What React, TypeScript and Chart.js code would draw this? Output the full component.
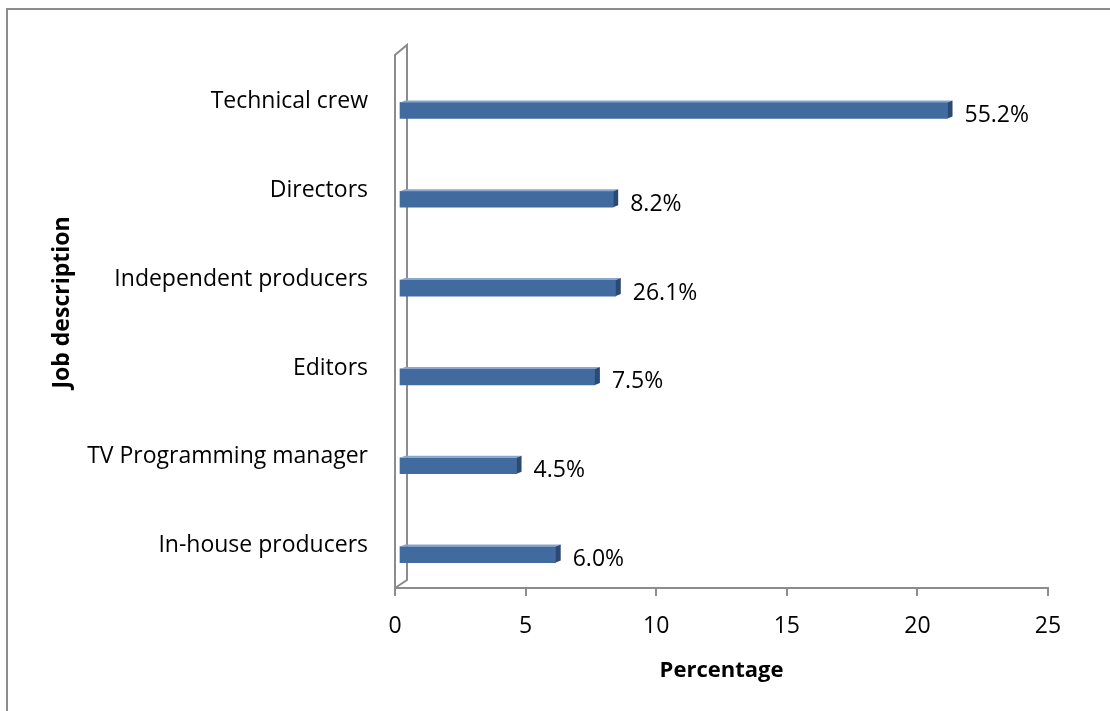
import React, { useEffect, useRef } from "react";
import { Chart, registerables } from "chart.js";

Chart.register(...registerables);

const categories = [
  "Technical crew",
  "Directors",
  "Independent producers",
  "Editors",
  "TV Programming manager",
  "In-house producers",
];
// bar lengths as drawn in the reference
const barValues = [21.0, 8.2, 8.3, 7.5, 4.5, 6.0];
// data labels as printed in the reference
const barLabels = ["55.2%", "8.2%", "26.1%", "7.5%", "4.5%", "6.0%"];
const xTicks = [0, 5, 10, 15, 20, 25];
const yTitle = "Job description";

const FONT = "'Open Sans', 'Noto Sans', sans-serif";
const GREY = "#8c8c8c";
const DEPTH_X = 12;
const DEPTH_Y = 10;
const BAR_SHIFT = 4;

const wallPlugin = {
  id: "wall3d",
  beforeDatasetsDraw(chart: any) {
    const { ctx, chartArea } = chart;
    const L = chartArea.left;
    const T = chartArea.top;
    const B = chartArea.bottom;
    ctx.save();
    ctx.strokeStyle = GREY;
    ctx.lineWidth = 2;
    ctx.beginPath();
    ctx.moveTo(L, B);
    ctx.lineTo(L, T);
    ctx.lineTo(L + DEPTH_X, T - DEPTH_Y);
    ctx.lineTo(L + DEPTH_X, B - 8);
    ctx.lineTo(L, B);
    ctx.stroke();
    ctx.restore();
    ctx.save();
    ctx.translate(BAR_SHIFT, 0);
  },
  afterDatasetsDraw(chart: any) {
    const { ctx, chartArea } = chart;
    ctx.restore();
    const meta = chart.getDatasetMeta(0);
    ctx.save();
    meta.data.forEach((bar: any, i: number) => {
      const xs = bar.base + BAR_SHIFT;
      const xe = bar.x + BAR_SHIFT;
      const top = bar.y - bar.height / 2;
      const bot = bar.y + bar.height / 2;
      // top face
      ctx.fillStyle = "#8ba6cc";
      ctx.beginPath();
      ctx.moveTo(xs, top);
      ctx.lineTo(xs + 5, top - 2);
      ctx.lineTo(xe + 5, top - 2);
      ctx.lineTo(xe, top);
      ctx.closePath();
      ctx.fill();
      // side face
      ctx.fillStyle = "#2a4a74";
      ctx.beginPath();
      ctx.moveTo(xe, top);
      ctx.lineTo(xe + 5, top - 2);
      ctx.lineTo(xe + 5, bot - 2);
      ctx.lineTo(xe, bot);
      ctx.closePath();
      ctx.fill();
      // label
      ctx.fillStyle = "#000";
      ctx.font = `23px ${FONT}`;
      ctx.textAlign = "left";
      ctx.textBaseline = "middle";
      ctx.fillText(barLabels[i], xe + 17, bar.y + 5);
    });
    ctx.restore();
    // y axis title
    ctx.save();
    ctx.translate(62, (chartArea.top + chartArea.bottom) / 2 - 19);
    ctx.rotate(-Math.PI / 2);
    ctx.fillStyle = "#000";
    ctx.font = `bold 23px ${FONT}`;
    ctx.textAlign = "center";
    ctx.textBaseline = "middle";
    ctx.fillText(yTitle, 0, 0);
    ctx.restore();
  },
};

export default function App() {
  const ref = useRef<HTMLCanvasElement>(null);
  useEffect(() => {
    if (!ref.current) return;
    const chart = new Chart(ref.current, {
      type: "bar",
      data: {
        datasets: [
          {
            data: barValues.map((v, i) => ({ x: v, y: i })),
            backgroundColor: "#416a9f",
            borderWidth: 0,
            barThickness: 16,
          },
        ],
      },
      plugins: [wallPlugin],
      options: {
        indexAxis: "y",
        animation: false,
        responsive: false,
        maintainAspectRatio: false,
        layout: { padding: { left: 0, right: 62, top: 55, bottom: 0 } },
        plugins: { legend: { display: false }, tooltip: { enabled: false } },
        scales: {
          x: {
            type: "linear",
            position: "bottom",
            min: 0,
            max: 25,
            afterBuildTicks: (scale: any) => {
              scale.ticks = xTicks.map((v) => ({ value: v }));
            },
            afterFit: (scale: any) => {
              scale.height = 123;
            },
            ticks: {
              color: "#000",
              font: { family: FONT, size: 23 },
              padding: 17,
            },
            grid: {
              display: true,
              drawOnChartArea: false,
              drawTicks: true,
              tickLength: 8,
              color: GREY,
              lineWidth: 2,
            },
            border: { display: true, color: GREY, width: 2 },
            title: {
              display: true,
              text: "Percentage",
              color: "#000",
              font: { family: FONT, size: 22, weight: "bold" },
              padding: { top: 0, bottom: 27 },
            },
          },
          y: {
            type: "linear",
            position: "left",
            reverse: true,
            offset: false,
            grace: 0,
            min: -0.624,
            max: 5.376,
            afterBuildTicks: (scale: any) => {
              scale.ticks = categories.map((_, i) => ({ value: i - 0.1 }));
            },
            afterFit: (scale: any) => {
              scale.width = 395;
            },
            ticks: {
              autoSkip: false,
              color: "#000",
              font: { family: FONT, size: 23 },
              padding: 27,
              callback: (_v: any, idx: number) => categories[idx],
            },
            grid: { display: false, drawTicks: false },
            border: { display: false },
            title: { display: false },
          },
        },
      },
    } as any);
    return () => chart.destroy();
  }, []);

  return (
    <div
      style={{
        position: "absolute",
        left: 0,
        top: 0,
        width: 1110,
        height: 711,
        overflow: "hidden",
        background: "#fff",
      }}
    >
      <div
        style={{
          position: "absolute",
          left: 6,
          top: 8,
          width: 1300,
          height: 900,
          borderLeft: "2px solid #8c8c8c",
          borderTop: "2px solid #8c8c8c",
        }}
      />
      <canvas
        ref={ref}
        width={1110}
        height={711}
        style={{ position: "absolute", left: 0, top: 0, width: 1110, height: 711 }}
      />
    </div>
  );
}
